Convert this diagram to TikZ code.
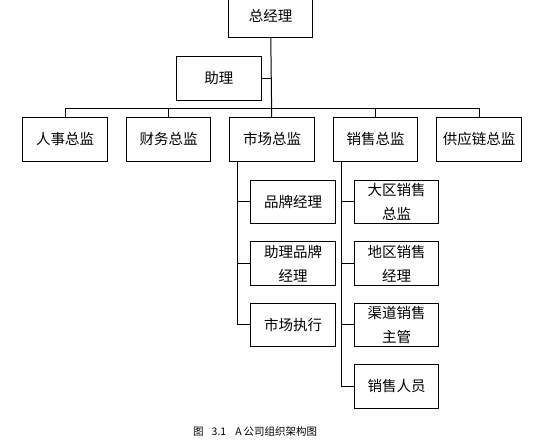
\documentclass[tikz,border=0pt]{standalone}
\usepackage{fontspec}
\setmainfont{Noto Sans CJK SC}
\usetikzlibrary{positioning}

\begin{document}
\begin{tikzpicture}[font=\fontsize{14.5}{24}\selectfont, node distance=18pt]
  \tikzset{
    post/.style={draw=black, line width=1pt, fill=white, minimum width=84.5pt, minimum height=43.5pt, inner ysep=1pt, align=center},
    link/.style={draw=black, line width=1pt}
  }
  \useasboundingbox (0,0) rectangle (548pt,-445pt);
  \node[post] (gm) at (270.5pt,-15.7pt) {总经理};
  \node[post] (asst) at (218.8pt,-78.4pt) {助理};
  \node[post] (hr) at (65pt,-139.3pt) {人事总监};
  \node[post, right=of hr] (fin) {财务总监};
  \node[post, right=of fin] (mkt) {市场总监};
  \node[post, right=of mkt] (sales) {销售总监};
  \node[post, right=of sales] (sc) {供应链总监};
  \node[post, below=18pt of mkt, xshift=21pt] (brand) {品牌经理};
  \node[post, below=17pt of brand] (abm) {助理品牌\\经理};
  \node[post, below=17pt of abm] (exec) {市场执行};
  \node[post, below=18pt of sales, xshift=21pt] (region) {大区销售\\总监};
  \node[post, below=17pt of region] (district) {地区销售\\经理};
  \node[post, below=17pt of district] (channel) {渠道销售\\主管};
  \node[post, below=17pt of channel] (staff) {销售人员};
  \coordinate (mktline) at ([xshift=8.5pt]mkt.south west);
  \coordinate (salesline) at ([xshift=9pt]sales.south west);
  \draw[link] (gm) -- (mkt);
  \draw[link] (asst.east) -- (asst.east -| gm.south);
  \draw[link] (hr.north) -- ++(0,8.7pt) -| (sc.north);
  \draw[link] (fin.north) -- ++(0,8.7pt);
  \draw[link] (sales.north) -- ++(0,8.7pt);
  \draw[link] (mktline) |- (exec.west);
  \draw[link] (brand.west) -- (brand.west -| mktline);
  \draw[link] (abm.west) -- (abm.west -| mktline);
  \draw[link] (salesline) |- (staff.west);
  \draw[link] (region.west) -- (region.west -| salesline);
  \draw[link] (district.west) -- (district.west -| salesline);
  \draw[link] (channel.west) -- (channel.west -| salesline);
  \node[font=\fontsize{10.5}{12}\selectfont, anchor=west, inner sep=0pt] (caption) at (193pt,-432pt) {图\hspace{8pt}3.1\hspace{9pt}A\hspace{2pt}公司组织架构图};
\end{tikzpicture}
\end{document}
